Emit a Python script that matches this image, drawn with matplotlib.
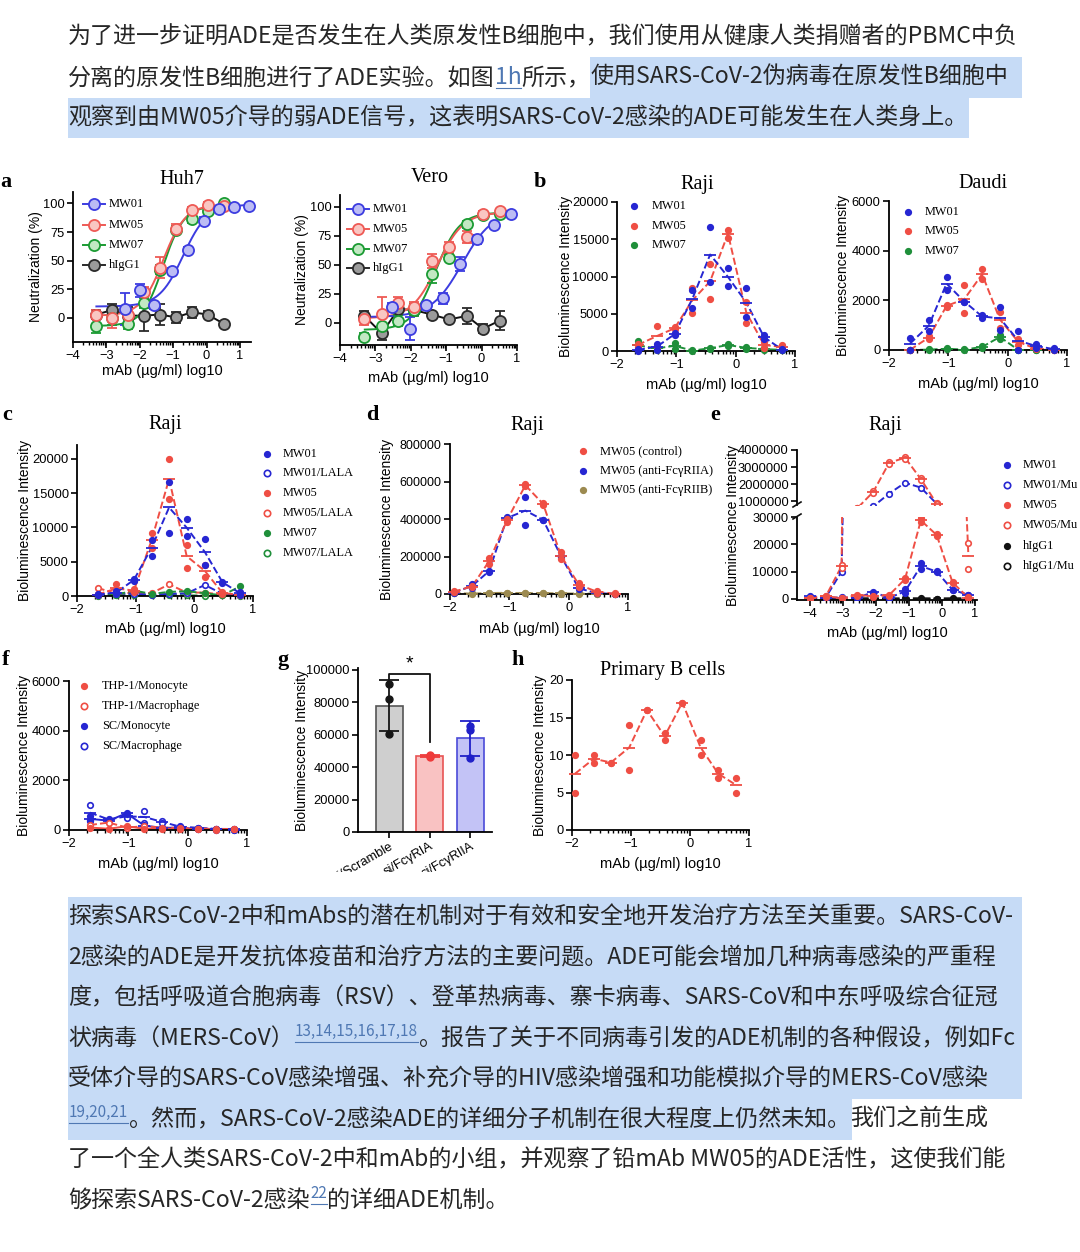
import numpy as np
import matplotlib
matplotlib.use('Agg')
import matplotlib.pyplot as plt
from matplotlib.lines import Line2D
from matplotlib.patches import Rectangle

W, H = 1080, 1252

# ---------------- article text ----------------
TOP_LINES = [
    [("为了进一步证明ADE是否发生在人类原发性B细胞中，我们使用从健康人类捐赠者的PBMC中负", 'n')],
    [("分离的原发性B细胞进行了ADE实验。如图", 'n'), ("1h", 'l'), ("所示，", 'n'),
     ("使用SARS-CoV-2伪病毒在原发性B细胞中", 'h')],
    [("观察到由MW05介导的弱ADE信号，这表明SARS-CoV-2感染的ADE可能发生在人类身上。", 'h')],
]
BOTTOM_LINES = [
    [("探索SARS-CoV-2中和mAbs的潜在机制对于有效和安全地开发治疗方法至关重要。SARS-CoV-", 'h')],
    [("2感染的ADE是开发抗体疫苗和治疗方法的主要问题。ADE可能会增加几种病毒感染的严重程", 'h')],
    [("度，包括呼吸道合胞病毒（RSV）、登革热病毒、寨卡病毒、SARS-CoV和中东呼吸综合征冠", 'h')],
    [("状病毒（MERS-CoV）", 'h'), ("13,14,15,16,17,18", 'hs'), ("。报告了关于不同病毒引发的ADE机制的各种假设，例如Fc", 'h')],
    [("受体介导的SARS-CoV感染增强、补充介导的HIV感染增强和功能模拟介导的MERS-CoV感染", 'h')],
    [("19,20,21", 'hs'), ("。然而，SARS-CoV-2感染ADE的详细分子机制在很大程度上仍然未知。", 'h'), ("我们之前生成", 'n')],
    [("了一个全人类SARS-CoV-2中和mAb的小组，并观察了铅mAb MW05的ADE活性，这使我们能", 'n')],
    [("够探索SARS-CoV-2感染", 'n'), ("22", 's'), ("的详细ADE机制。", 'n')],
]

# ---------------- panel a: neutralization ----------------
HUH7_X01 = [-2.45, -2.0, -1.57, -1.05, -0.57, -0.09, 0.38, 0.83, 1.28]
HUH7_Y01 = [8, 24, 11, 41, 59, 85, 95, 96.5, 98]
HUH7_E01 = [14, 6, 3, 3, 3, 3, 2, 2, 1]
HUH7_X = [-3.3, -2.82, -2.35, -1.87, -1.4, -0.92, -0.44, 0.03, 0.51]
HUH7_Y05 = [3, 0, 3, 23, 44, 78, 94, 99, 98]
HUH7_E05 = [4, 9, 4, 4, 9, 4, 3, 2, 2]
HUH7_Y07 = [-7, 0, -5, 13, 42, 77, 86, 93, 100]
HUH7_E07 = [6, 6, 5, 4, 4, 3, 3, 2, 2]
HUH7_YG = [3, 7, 2, 2, 3, 0.5, 5, 3, -5]
HUH7_EG = [4, 5, 8, 13, 9, 5, 5, 3, 2]
# fitted curves: bottom, top, logEC50, hill
HUH7_FIT01 = [10, 99, -0.7, 1.2]
HUH7_FIT05 = [2, 99, -1.3, 1.3]
HUH7_FIT07 = [-7, 98, -1.3, 1.4]

VERO_X01 = [-2.54, -2.02, -1.57, -1.1, -0.6, -0.13, 0.36, 0.83]
VERO_Y01 = [14, -5, 15, 21, 51, 72, 84, 94]
VERO_E01 = [3, 10, 3, 5, 6, 4, 2, 2]
VERO_X = [-3.31, -2.82, -2.35, -1.9, -1.39, -0.92, -0.42, 0.04, 0.51]
VERO_Y05 = [3, 7.5, 17, 14, 53, 65, 74, 94, 96]
VERO_E05 = [5, 15, 5, 4, 6, 5, 5, 2, 2]
VERO_Y07 = [-12, -3, 2, 11, 42, 56, 85, 93, 94]
VERO_E07 = [3, 8, 5, 5, 8, 3, 3, 2, 2]
VERO_YG = [6, -9, 12, 11, 7, 3, 6, -5, 2]
VERO_EG = [4, 6, 3, 2, 2, 2, 7, 4, 8]
VERO_FIT01 = [5, 97, -0.55, 1.0]
VERO_FIT05 = [4, 95, -1.25, 1.2]
VERO_FIT07 = [-6, 95, -1.3, 1.3]

# ---------------- panel b ----------------
X_B = [-1.65, -1.33, -1.03, -0.73, -0.43, -0.13, 0.18, 0.48, 0.78]
RAJI_MW01 = [[300, 1000, 2400, 8200, 16600, 11200, 8400, 2100, 300],
             [0, 150, 2100, 5800, 9300, 8700, 4600, 1600, 100]]
RAJI_MW05 = [[1000, 3400, 3200, 8500, 11700, 16300, 6600, 1250, 800],
             [600, 600, 2900, 5100, 7000, 15200, 3700, 350, 300]]
RAJI_MW07 = [[1300, 500, 1100, 100, 450, 900, 550, 400, 200],
             [200, 200, 300, 0, 300, 700, 300, 100, 100]]
DAUDI_MW01 = [[500, 1200, 2950, 1950, 1400, 1750, 750, 250, 70],
              [0, 750, 2400, 1950, 1300, 800, 0, 70, 0]]
DAUDI_MW05 = [[0, 550, 1800, 2600, 3250, 1550, 450, 70, 20],
              [0, 450, 1750, 1500, 2850, 900, 200, 30, 0]]
DAUDI_MW07 = [[0, 30, 70, 30, 150, 600, 0, 0, 30],
              [0, 0, 30, 0, 100, 450, 0, 0, 0]]

# ---------------- panel c ----------------
C_MW01 = [[300, 700, 2500, 8200, 16600, 11200, 8300, 2100, 600],
          [100, 300, 2200, 5800, 9200, 8700, 4500, 1900, 200]]
C_MW05 = [[300, 1800, 1000, 9200, 20000, 7500, 4500, 600, 200],
          [100, 400, 600, 7000, 14100, 4100, 2800, 300, 100]]
C_MW07 = [[100, 200, 800, 300, 600, 700, 400, 100, 1400]]
C_MW01_LALA = [[200, 400, 300, 200, 300, 400, 1600, 300, 100]]
C_MW05_LALA = [[1200, 300, 500, 400, 1700, 500, 500, 200, 100]]
C_MW07_LALA = [[50, 150, 100, 100, 150, 100, 50, 100, 50]]

# ---------------- panel d ----------------
X_D = [-1.94, -1.63, -1.34, -1.04, -0.73, -0.43, -0.13, 0.17, 0.48, 0.78]
D_CTRL = [[15000, 45000, 190000, 400000, 585000, 485000, 225000, 60000, 15000, 3000],
          [10000, 35000, 160000, 385000, 575000, 475000, 185000, 40000, 8000, 0]]
D_RIIA = [[10000, 55000, 125000, 410000, 520000, 395000, 205000, 35000, 5000, 2000],
          [5000, 30000, 120000, 400000, 370000, 395000, 200000, 25000, 3000, 0]]
D_RIIB = [[5000, 3000, 6000, 8000, 5000, 6000, 4000, 3000, 2000, 1000],
          [3000, 2000, 4000, 5000, 3000, 4000, 2000, 2000, 1000, 0]]

# ---------------- panel e (broken axis) ----------------
X_E = [-4.0, -3.52, -3.04, -2.56, -2.08, -1.6, -1.12, -0.64, -0.16, 0.32, 0.8]
E_MW01 = [[1200, 600, 600, 500, 2700, 500, 3500, 13000, 10200, 3400, 1600],
          [800, 400, 400, 300, 2300, 300, 2000, 11000, 9800, 3200, 1400]]
E_MW01_MU = [[300, 500, 10000, 300000, 700000, 1450000, 2080000, 1800000, 850000]]
E_MW05 = [[500, 1200, 300, 1600, 1200, 1600, 7500, 29500, 23800, 6200, 600],
          [300, 800, 200, 1200, 800, 1200, 7000, 28000, 23000, 5800, 300]]
E_MW05_MU = [[500, 1000, 12500, 600000, 1600000, 3300000, 3600000, 2350000, 870000, 150000, 20500],
             [300, 800, 11500, 600000, 1500000, 3200000, 3500000, 2250000, 830000, 150000, 10800]]
E_IGG1 = [[200, 100, 100, 200, 100, 100, 200, 100, 100, 200, 100]]
E_IGG1_MU = [[100, 200, 100, 100, 200, 100, 100, 200, 100, 100, 200]]

# ---------------- panel f ----------------
F_THP_MONO = [[100, 50, 150, 50, 50, 50, 30, 20, 50]]
F_THP_MAC = [[200, 300, 100, 150, 100, 80, 60, 40, 30]]
F_SC_MONO = [[550, 400, 700, 200, 100, 100, 50, 30, 20],
             [350, 350, 650, 150, 80, 80, 40, 20, 10]]
F_SC_MAC = [[1000, 450, 600, 750, 350, 150, 100, 50, 50],
            [400, 400, 500, 300, 300, 120, 80, 40, 30]]

# ---------------- panel g ----------------
G_LABELS = ['si/Scramble', 'si/FcγRIA', 'si/FcγRIIA']
G_SCRAMBLE = [91000, 82000, 60500]
G_RIA = [47500, 46000, 46500]
G_RIIA = [65000, 63000, 45500]

# ---------------- panel h ----------------
X_H = [-1.95, -1.63, -1.34, -1.03, -0.73, -0.43, -0.13, 0.18, 0.48, 0.78]
H_PRIMARY = [[10, 10, 9, 14, 16, 13, 17, 12, 8, 7],
             [5, 9, 9, 8, 16, 12, 17, 10, 7, 5]]

CJK = ['Noto Sans CJK SC', 'DejaVu Sans']
SERIF = ['Liberation Serif', 'DejaVu Serif']
SANS = ['Liberation Sans', 'DejaVu Sans']
plt.rcParams['font.family'] = SANS

TXT = '#262626'
LINK = '#4f78b3'
HL = '#c6dbf6'
BLUE = '#2626d2'
RED = '#ef4e44'
GREEN = '#1f8f3a'
OLIVE = '#9c8a50'

fig = plt.figure(figsize=(W / 100, H / 100), dpi=100)
fig.patch.set_facecolor('white')
renderer = fig.canvas.get_renderer()


def fx(x):
    return x / W


def fy(y):
    return 1 - y / H


def ftext(x, y, s, **kw):
    return fig.text(fx(x), fy(y), s, **kw)


def fline(xs, ys, **kw):
    fig.add_artist(Line2D([fx(v) for v in xs], [fy(v) for v in ys], **kw))


def text_block(lines, y0, step=40.5, fs=16.6, x0=68, right=1022):
    spans_all = []
    for i, runs in enumerate(lines):
        y = y0 + i * step
        x = x0
        spans = []
        for s, kind in runs:
            if kind in ('s', 'hs'):
                t = ftext(x + 1, y - 7, s, fontsize=fs * 0.66, color=LINK, family=CJK,
                          va='center', ha='left', zorder=3)
            else:
                t = ftext(x, y, s, fontsize=fs, color=LINK if kind == 'l' else TXT,
                          family=CJK, va='center', ha='left', zorder=3)
            bb = t.get_window_extent(renderer=renderer)
            if kind in ('l', 's', 'hs'):
                uy = y + 10 if kind == 'l' else y + 3
                fline([x + 1, bb.x1], [uy, uy], color=LINK, lw=0.8, zorder=3)
            spans.append((x, bb.x1, kind))
            x = bb.x1
        spans_all.append((y, spans))
    # highlight bands behind the text
    for i, (y, spans) in enumerate(spans_all):
        hs = [sp for sp in spans if sp[2] in ('h', 'hs')]
        if not hs:
            continue
        start = hs[0][0]
        end = hs[-1][1] + 2
        if hs[-1] is spans[-1] and i + 1 < len(spans_all):
            nxt = spans_all[i + 1][1][0][2]
            if nxt in ('h', 'hs'):
                end = right
        fig.add_artist(Rectangle((fx(start), fy(y + step / 2)), (end - start) / W, step / H,
                                 facecolor=HL, edgecolor='none', zorder=1))


text_block(TOP_LINES, 37)
text_block(BOTTOM_LINES, 917)


def new_ax(l, t, r, b):
    ax = fig.add_axes([fx(l), fy(b), (r - l) / W, (b - t) / H])
    for s in ['top', 'right']:
        ax.spines[s].set_visible(False)
    for s in ['left', 'bottom']:
        ax.spines[s].set_linewidth(1.3)
    ax.tick_params(direction='out', length=4, width=1.2, labelsize=9.3, pad=2)
    ax.patch.set_alpha(0)
    return ax


def log_minor(ax, lo, hi):
    ax.set_xticks([n + np.log10(k) for n in range(lo, hi) for k in range(2, 10)], minor=True)
    ax.tick_params(axis='x', which='minor', length=2.5, width=1)


def labels(ax_box, title, title_xy, ylabel, ylab_x, letter=None, letter_xy=None, dy=31):
    l, t, r, b = ax_box
    if title:
        ftext(title_xy[0], title_xy[1], title, family=SERIF, fontsize=14.5, ha='center', va='center')
    ftext((l + r) / 2, b + dy, 'mAb (µg/ml) log10', fontsize=10.5, ha='center', va='center')
    ftext(ylab_x, (t + b) / 2, ylabel, fontsize=10, rotation=90, ha='center', va='center')
    if letter:
        ftext(letter_xy[0], letter_xy[1], letter, family=SERIF, fontsize=16, weight='bold',
              ha='center', va='center')


def neut(ax, x, y, e, edge, face, fit=None, lo=-3.3, connect=False):
    if fit is not None:
        xs = np.linspace(lo, max(x), 200)
        b, t, c, h = fit
        ax.plot(xs, b + (t - b) / (1 + 10 ** ((c - xs) * h)), color=edge, lw=1.4, zorder=2)
    if connect:
        ax.plot(x, y, color='#111111', lw=1.4, zorder=2)
    ax.errorbar(x, y, yerr=e, fmt='none', ecolor=edge, elinewidth=1.3, capsize=3.5,
                capthick=1.3, zorder=3, clip_on=False)
    ax.plot(x, y, 'o', ms=8, mfc=face, mec=edge, mew=1.3, ls='none', zorder=4, clip_on=False)


A_EDGE = ['#3c3ce0', '#ee5a55', '#1b9b33', '#2a2a2a']
A_FACE = ['#bcbcf4', '#f9c6c2', '#c2e8c3', '#9b9b9b']
A_NAMES = ['MW01', 'MW05', 'MW07', 'hIgG1']


def neut_legend(xm, xt, ys):
    for y, n, ec, fc in zip(ys, A_NAMES, A_EDGE, A_FACE):
        fline([xm - 11, xm + 11], [y, y], color=ec, lw=1.4)
        fline([xm], [y], marker='o', ms=8, mfc=fc, mec=ec, mew=1.3, ls='none')
        ftext(xt, y, n, family=SERIF, fontsize=9, va='center', ha='left')


# Huh7
box = (73, 192, 251, 342)
ax = new_ax(*box)
ax.set_xlim(-4, 1.33)
ax.set_ylim(-21, 110)
neut(ax, HUH7_X, HUH7_YG, HUH7_EG, A_EDGE[3], A_FACE[3], connect=True)
neut(ax, HUH7_X, HUH7_Y07, HUH7_E07, A_EDGE[2], A_FACE[2], HUH7_FIT07)
neut(ax, HUH7_X, HUH7_Y05, HUH7_E05, A_EDGE[1], A_FACE[1], HUH7_FIT05)
neut(ax, HUH7_X01, HUH7_Y01, HUH7_E01, A_EDGE[0], A_FACE[0], HUH7_FIT01)
ax.set_xticks(range(-4, 2))
ax.set_yticks([0, 25, 50, 75, 100])
log_minor(ax, -4, 1)
labels(box, 'Huh7', (182, 179), 'Neutralization (%)', 36, 'a', (6, 182), dy=29)
neut_legend(94, 109, [204, 225, 245, 265])

# Vero
box = (340, 195, 517, 345)
ax = new_ax(*box)
ax.set_xlim(-4, 1)
ax.set_ylim(-19, 110)
neut(ax, VERO_X, VERO_YG, VERO_EG, A_EDGE[3], A_FACE[3], connect=True)
neut(ax, VERO_X, VERO_Y07, VERO_E07, A_EDGE[2], A_FACE[2], VERO_FIT07)
neut(ax, VERO_X, VERO_Y05, VERO_E05, A_EDGE[1], A_FACE[1], VERO_FIT05)
neut(ax, VERO_X01, VERO_Y01, VERO_E01, A_EDGE[0], A_FACE[0], VERO_FIT01)
ax.set_xticks(range(-4, 2))
ax.set_yticks([0, 25, 50, 75, 100])
log_minor(ax, -4, 1)
labels(box, 'Vero', (430, 178), 'Neutralization (%)', 302, dy=33)
neut_legend(358, 373, [209, 229, 249, 268])


def dots(ax, x, reps, color, filled=True, ls='--', ms=4, clip=False, lw=1.4):
    reps = np.array(reps, float)
    x = list(x)[:reps.shape[1]]
    m = reps.mean(axis=0)
    ax.plot(x, m, ls=ls, color=color, lw=lw, zorder=2)
    for r in reps:
        ax.plot(x, r, 'o', ls='none', ms=ms, color=color, mec=color,
                mfc=color if filled else 'white', mew=1.2, clip_on=clip, zorder=3)
    if len(reps) > 1:
        ax.plot(x, m, '_', ls='none', ms=9, mew=1.3, color=color, clip_on=clip, zorder=3)


def dot_legend(xm, xt, ys, names, colors, filled, fs=8.8):
    for y, n, c, f in zip(ys, names, colors, filled):
        fline([xm], [y], marker='o', ms=4 if f else 4.6, color=c, mec=c,
              mfc=c if f else 'white', mew=1.2, ls='none')
        ftext(xt, y, n, family=SERIF, fontsize=fs, va='center', ha='left')


def bio_ax(box, ymax, yticks, xr=(-2, 1)):
    ax = new_ax(*box)
    ax.set_xlim(*xr)
    ax.set_ylim(0, ymax)
    ax.set_xticks(range(xr[0], xr[1] + 1))
    ax.set_yticks(yticks)
    ax.set_yticklabels([str(int(v)) for v in yticks])
    log_minor(ax, xr[0], xr[1])
    return ax


# b: Raji
box = (617, 202, 795, 351)
ax = bio_ax(box, 20000, [0, 5000, 10000, 15000, 20000])
dots(ax, X_B, RAJI_MW07, GREEN)
dots(ax, X_B, RAJI_MW05, RED)
dots(ax, X_B, RAJI_MW01, BLUE)
labels(box, 'Raji', (697, 184), 'Bioluminescence Intensity', 566, 'b', (540, 182), dy=34)
dot_legend(634, 652, [206, 226, 245], ['MW01', 'MW05', 'MW07'], [BLUE, RED, GREEN], [1, 1, 1])

# b: Daudi
box = (889, 201, 1067, 350)
ax = bio_ax(box, 6000, [0, 2000, 4000, 6000])
dots(ax, X_B, DAUDI_MW07, GREEN)
dots(ax, X_B, DAUDI_MW05, RED)
dots(ax, X_B, DAUDI_MW01, BLUE)
labels(box, 'Daudi', (983, 184), 'Bioluminescence Intensity', 843, dy=34)
dot_legend(908, 925, [212, 231, 251], ['MW01', 'MW05', 'MW07'], [BLUE, RED, GREEN], [1, 1, 1])

# c
box = (77, 445, 253, 596)
ax = bio_ax(box, 22000, [0, 5000, 10000, 15000, 20000])
dots(ax, X_B, C_MW07_LALA, GREEN, filled=False)
dots(ax, X_B, C_MW05_LALA, RED, filled=False)
dots(ax, X_B, C_MW01_LALA, BLUE, filled=False)
dots(ax, X_B, C_MW07, GREEN)
dots(ax, X_B, C_MW05, RED)
dots(ax, X_B, C_MW01, BLUE)
labels(box, 'Raji', (165, 424), 'Bioluminescence Intensity', 25, 'c', (7, 415), dy=33)
dot_legend(267, 283, [454, 473, 493, 513, 533, 553],
           ['MW01', 'MW01/LALA', 'MW05', 'MW05/LALA', 'MW07', 'MW07/LALA'],
           [BLUE, BLUE, RED, RED, GREEN, GREEN], [1, 0, 1, 0, 1, 0])

# d
box = (450, 444, 628, 594)
ax = bio_ax(box, 800000, [0, 200000, 400000, 600000, 800000])
ax.tick_params(axis='y', labelsize=9)
dots(ax, X_D, D_RIIB, OLIVE)
dots(ax, X_D, D_RIIA, BLUE)
dots(ax, X_D, D_CTRL, RED)
labels(box, 'Raji', (527, 426), 'Bioluminescence Intensity', 387, 'd', (372, 415), dy=35)
dot_legend(583, 600, [451, 471, 490],
           ['MW05 (control)', 'MW05 (anti-FcγRIIA)', 'MW05 (anti-FcγRIIB)'],
           [RED, BLUE, OLIVE], [1, 1, 1], fs=9)

# e: broken y axis
up = new_ax(797, 450, 977, 505)
lo = new_ax(797, 517, 977, 600)
for a in (up, lo):
    a.set_xlim(-4.39, 1.06)
    dots(a, X_E, E_IGG1_MU, '#111111', filled=False, clip=True)
    dots(a, X_E, E_IGG1, '#111111', clip=True)
    dots(a, X_E, E_MW01_MU, BLUE, filled=False, clip=True)
    dots(a, X_E, E_MW05_MU, RED, filled=False, clip=True)
    dots(a, X_E, E_MW01, BLUE, clip=True)
    dots(a, X_E, E_MW05, RED, clip=True)
up.set_ylim(780000, 4000000)
up.set_yticks([1000000, 2000000, 3000000, 4000000])
up.set_yticklabels(['1000000', '2000000', '3000000', '4000000'])
up.spines['bottom'].set_visible(False)
up.set_xticks([])
lo.set_ylim(-400, 30000)
lo.set_yticks([0, 10000, 20000, 30000])
lo.set_yticklabels(['0', '10000', '20000', '30000'])
lo.set_xticks(range(-4, 2))
log_minor(lo, -4, 1)
# break marks on the left spine
fline([793, 801], [507, 502], color='#111111', lw=1.2)
fline([793, 801], [519, 514], color='#111111', lw=1.2)
ftext(887, 633, 'mAb (µg/ml) log10', fontsize=10.5, ha='center', va='center')
ftext(733, 525, 'Bioluminescence Intensity', fontsize=10, rotation=90, ha='center', va='center')
ftext(885, 426, 'Raji', family=SERIF, fontsize=14.5, ha='center', va='center')
ftext(715, 415, 'e', family=SERIF, fontsize=16, weight='bold', ha='center', va='center')
dot_legend(1007, 1023, [465, 485, 505, 525, 546, 566],
           ['MW01', 'MW01/Mu', 'MW05', 'MW05/Mu', 'hIgG1', 'hIgG1/Mu'],
           [BLUE, BLUE, RED, RED, '#111111', '#111111'], [1, 0, 1, 0, 1, 0])

# f
box = (69, 681, 247, 830)
ax = bio_ax(box, 6000, [0, 2000, 4000, 6000])
dots(ax, X_B, F_SC_MAC, BLUE, filled=False, ls='--')
dots(ax, X_B, F_SC_MONO, BLUE, ls='-')
dots(ax, X_B, F_THP_MAC, RED, filled=False, ls='--')
dots(ax, X_B, F_THP_MONO, RED, ls='-')
labels(box, None, None, 'Bioluminescence Intensity', 24, 'f', (6, 660), dy=34)
dot_legend(84, 102, [686, 706, 726, 746],
           ['THP-1/Monocyte', 'THP-1/Macrophage', 'SC/Monocyte', 'SC/Macrophage'],
           [RED, RED, BLUE, BLUE], [1, 0, 1, 0])

# g: bars
box = (358, 668, 492, 832)
ax = new_ax(*box)
groups = [G_SCRAMBLE, G_RIA, G_RIIA]
fills = ['#cfcfcf', '#f9c2c2', '#c3c3f6']
edges = ['#555555', '#e85454', '#4a4ad8']
pcols = ['#161616', '#ee3a3a', '#2020c8']
means = [np.mean(g) for g in groups]
sds = [np.std(g, ddof=1) for g in groups]
ax.bar(range(3), means, width=0.67, color=fills, edgecolor=edges, linewidth=1.2, zorder=2)
for i, g in enumerate(groups):
    ax.errorbar(i, means[i], yerr=sds[i], fmt='none', ecolor=pcols[i], elinewidth=1.3,
                capsize=7, capthick=1.3, zorder=3)
    ax.plot([i] * len(g), g, 'o', ms=5, color=pcols[i], ls='none', zorder=4)
ax.set_xlim(-0.77, 2.54)
ax.set_ylim(0, 101000)
ax.set_yticks([0, 20000, 40000, 60000, 80000, 100000])
ax.set_yticklabels(['0', '20000', '40000', '60000', '80000', '100000'])
ax.set_xticks(range(3))
ax.set_xticklabels(G_LABELS, rotation=30, ha='right', rotation_mode='anchor', fontsize=9.3)
ax.plot([0, 0, 1, 1], [94000, 97200, 97200, 55500], color='#111111', lw=1.3, clip_on=False)
ax.text(0.5, 98500, '*', ha='center', va='bottom', fontsize=14, clip_on=False)
ftext(302, 750, 'Bioluminescence Intensity', fontsize=10, rotation=90, ha='center', va='center')
ftext(283, 660, 'g', family=SERIF, fontsize=16, weight='bold', ha='center', va='center')
# the figure image is cropped just under the rotated labels
fig.add_artist(Rectangle((fx(270), fy(896)), 260 / W, 24 / H, facecolor='white',
                         edgecolor='none', zorder=2))

# h
box = (572, 680, 749, 830)
ax = bio_ax(box, 20, [0, 5, 10, 15, 20])
dots(ax, X_H, H_PRIMARY, RED)
labels(box, 'Primary B cells', (663, 670), 'Bioluminescence Intensity', 540, 'h', (518, 660), dy=34)

fig.savefig('out.png', dpi=100, facecolor='white')
